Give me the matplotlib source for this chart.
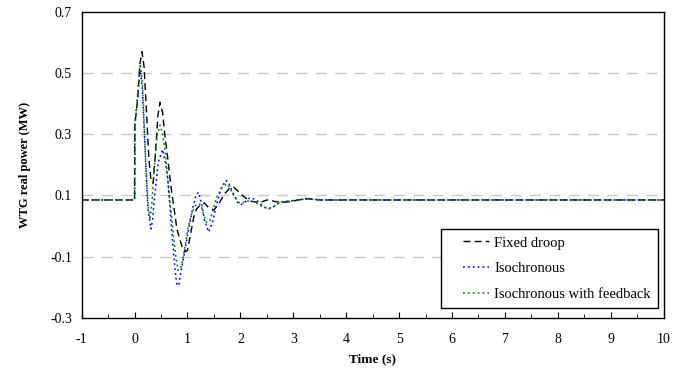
import matplotlib.pyplot as plt
from matplotlib.ticker import MultipleLocator
from matplotlib.legend_handler import HandlerLine2D

plt.rcParams['font.family'] = ['Liberation Serif', 'DejaVu Serif']
plt.rcParams['axes.unicode_minus'] = False

# fixed droop
t_fd = [-1.0, 0.0, 0.005, 0.06, 0.10, 0.14, 0.18, 0.22, 0.27, 0.31,
        0.35, 0.40, 0.44, 0.48, 0.53, 0.57, 0.62, 0.66, 0.71, 0.76,
        0.80, 0.85, 0.90, 0.95, 1.00, 1.07, 1.12, 1.17, 1.25, 1.32,
        1.40, 1.50, 1.60, 1.70, 1.80, 1.87, 1.95, 2.05, 2.18, 2.30,
        2.40, 2.53, 2.65, 2.80, 2.95, 3.10, 3.28, 3.50, 4.0, 10.0]
p_fd = [0.085, 0.085, 0.33, 0.42, 0.53, 0.57, 0.52, 0.39, 0.22, 0.15,
        0.14, 0.25, 0.36, 0.405, 0.37, 0.30, 0.23, 0.17, 0.10, 0.04,
        -0.01, -0.04, -0.07, -0.085, -0.08, -0.015, 0.03, 0.055, 0.07, 0.075,
        0.06, 0.052, 0.075, 0.105, 0.124, 0.127, 0.115, 0.098, 0.081, 0.078,
        0.079, 0.086, 0.08, 0.077, 0.08, 0.085, 0.089, 0.085, 0.085, 0.085]

# isochronous
t_iso = [-1.0, 0.0, 0.005, 0.05, 0.09, 0.11, 0.15, 0.19, 0.25, 0.31,
         0.34, 0.38, 0.45, 0.53, 0.58, 0.63, 0.69, 0.76, 0.80, 0.84,
         0.88, 0.94, 1.00, 1.10, 1.16, 1.21, 1.27, 1.32, 1.40, 1.47,
         1.55, 1.63, 1.72, 1.78, 1.84, 1.96, 2.02, 2.10, 2.18, 2.30,
         2.42, 2.53, 2.65, 2.75, 2.95, 3.10, 3.25, 3.50, 4.0, 10.0]
p_iso = [0.085, 0.085, 0.33, 0.41, 0.49, 0.51, 0.44, 0.28, 0.06, -0.01,
         0.02, 0.10, 0.21, 0.25, 0.21, 0.15, 0.01, -0.135, -0.195, -0.19,
         -0.145, -0.09, -0.03, 0.06, 0.10, 0.11, 0.07, 0.02, -0.02, 0.01,
         0.07, 0.12, 0.149, 0.14, 0.115, 0.073, 0.07, 0.08, 0.093, 0.085,
         0.065, 0.055, 0.065, 0.078, 0.082, 0.085, 0.09, 0.085, 0.085, 0.085]

# isochronous with feedback
t_fb = [-1.0, 0.0, 0.005, 0.05, 0.09, 0.11, 0.15, 0.22, 0.26, 0.29,
        0.33, 0.38, 0.43, 0.48, 0.53, 0.58, 0.62, 0.66, 0.70, 0.74,
        0.78, 0.82, 0.87, 0.91, 0.96, 1.00, 1.06, 1.13, 1.19, 1.25,
        1.30, 1.36, 1.42, 1.48, 1.55, 1.65, 1.74, 1.80, 1.87, 1.99,
        2.08, 2.18, 2.30, 2.42, 2.53, 2.65, 2.75, 2.95, 3.10, 3.25,
        3.50, 4.0, 10.0]
p_fb = [0.085, 0.085, 0.33, 0.41, 0.50, 0.53, 0.46, 0.17, 0.06, 0.02,
        0.08, 0.21, 0.30, 0.33, 0.30, 0.24, 0.17, 0.09, 0.03, -0.04,
        -0.10, -0.145, -0.14, -0.11, -0.06, -0.015, 0.03, 0.062, 0.073, 0.07,
        0.04, 0.012, 0.015, 0.05, 0.094, 0.125, 0.138, 0.125, 0.10, 0.073,
        0.078, 0.084, 0.075, 0.062, 0.057, 0.066, 0.078, 0.082, 0.085, 0.089,
        0.085, 0.085, 0.085]

labels = ['Fixed droop', 'Isochronous', 'Isochronous with feedback']


class ShortLine(HandlerLine2D):
    # legend line drawn only in the right part of the handle box
    def get_xdata(self, legend, xdescent, ydescent, width, height, fontsize):
        xs = [-xdescent + 0.36 * width, -xdescent + width]
        return xs, xs


fig = plt.figure(figsize=(6.83, 3.72), dpi=100)
ax = fig.add_axes([0.1196, 0.146, 0.852, 0.822])

ax.set_xlim(-1, 10)
ax.set_ylim(-0.3, 0.7)
ax.set_yticks([-0.3, -0.1, 0.1, 0.3, 0.5, 0.7])
ax.set_yticklabels(['-0.3', '-0.1', '0.1', '0.3', '0.5', '0.7'])
ax.xaxis.set_major_locator(MultipleLocator(1))
ax.xaxis.set_minor_locator(MultipleLocator(0.5))

for yv in [-0.1, 0.1, 0.3, 0.5]:
    ax.axhline(yv, color='#c8c8c8', lw=1, dashes=(8, 6), zorder=0)

ax.plot(t_fd, p_fd, color='black', lw=1, dashes=(5, 3), label=labels[0])
ax.plot(t_iso, p_iso, color='blue', lw=1.1, dashes=(1.2, 2), label=labels[1])
ax.plot(t_fb, p_fb, color='green', lw=1.1, dashes=(1.2, 2), label=labels[2])

ax.tick_params(axis='x', which='major', direction='in', length=4, labelsize=10, pad=11)
ax.tick_params(axis='x', which='minor', direction='in', length=3)
ax.tick_params(axis='y', length=0, labelsize=10, pad=7)

for s in ax.spines.values():
    s.set_linewidth(1)

ax.set_xlabel('Time (s)', fontsize=9.5, fontweight='bold', labelpad=5)
ax.set_ylabel('WTG real power (MW)', fontsize=9, fontweight='bold', labelpad=14)

leg = ax.legend(loc='upper right', bbox_to_anchor=(0.99, 0.29), borderaxespad=0,
                fontsize=10.5, handlelength=2.75, handletextpad=0.35,
                labelspacing=0.85, fancybox=False, framealpha=1,
                edgecolor='black', borderpad=0.5,
                handler_map={plt.Line2D: ShortLine()})
leg.get_frame().set_linewidth(1)

fig.savefig('out.png', dpi=100)
